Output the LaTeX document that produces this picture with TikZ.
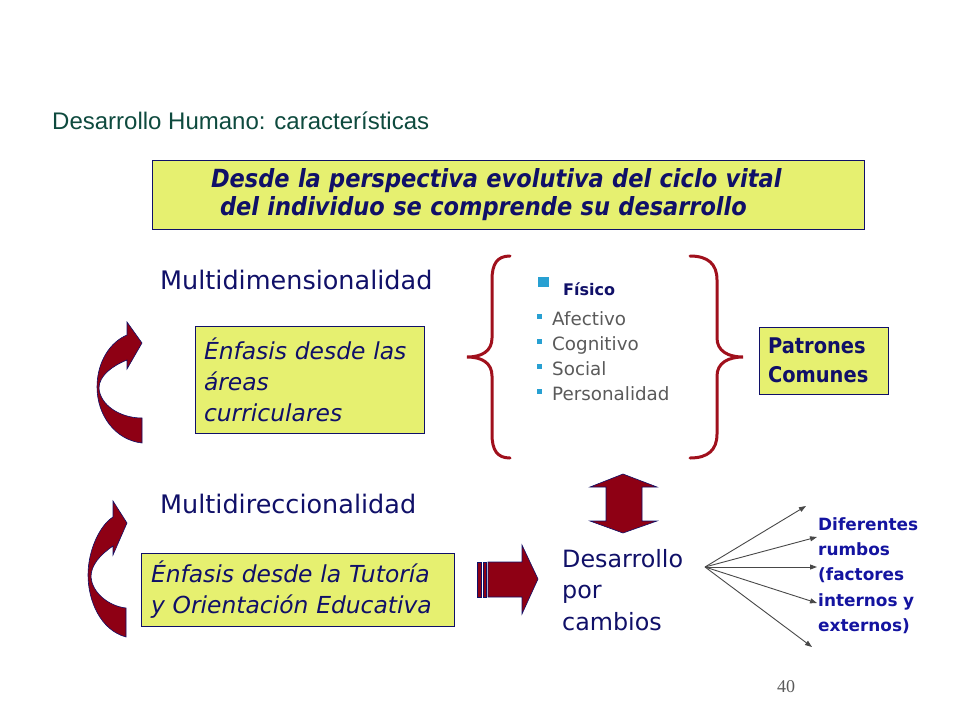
\documentclass[tikz,border=0pt]{standalone}
\usepackage{fontspec}
\setmainfont{DejaVu Sans}
\newfontfamily\titlefont{Liberation Sans}
\newfontfamily\numfont{Liberation Serif}
\newfontfamily\narrowfont[FakeStretch=0.9]{DejaVu Sans}
\usetikzlibrary{arrows.meta}
\definecolor{navy}{RGB}{16,16,104}
\definecolor{boxyellow}{RGB}{230,240,112}
\definecolor{arrowred}{RGB}{142,0,20}
\definecolor{bracered}{RGB}{160,16,28}
\definecolor{titlegreen}{RGB}{14,74,62}
\definecolor{listgray}{RGB}{90,90,90}
\definecolor{bulletblue}{RGB}{40,160,210}
\definecolor{rumboblue}{RGB}{20,20,160}
\definecolor{fangray}{RGB}{72,72,72}
\begin{document}
\begin{tikzpicture}[x=1pt, y=-1pt,
  ybox/.style={draw=navy, line width=0.8pt, fill=boxyellow, text=navy, align=left},
  txt/.style={anchor=base west, inner sep=0, text=navy},
  redshape/.style={fill=arrowred, draw=navy, line width=0.6pt},
  curly/.style={draw=bracered, line width=3pt, line cap=round},
  rumbo/.style={draw=fangray, line width=0.9pt, -{Triangle[length=7pt,width=5pt]}}]
\useasboundingbox (0,0) rectangle (960,720);
\node[txt, text=titlegreen, font=\titlefont\fontsize{24}{28}\selectfont] (title) at (52,129) {Desarrollo Humano: características};
\node[ybox, font=\narrowfont\bfseries\itshape\fontsize{25}{28}\selectfont, inner xsep=59pt, text width=594pt, minimum height=69pt] (intro) at (508,194.5)
  {Desde la perspectiva evolutiva del ciclo vital\\\hspace*{9pt}del individuo se comprende su desarrollo};
\node[txt, font=\fontsize{25.5}{30}\selectfont] (dim) at (160,289) {Multidimensionalidad};
\node[ybox, font=\itshape\fontsize{23.4}{31}\selectfont, inner xsep=9pt, text width=211pt, minimum height=107pt] (areas) at (309.5,379.5)
  {Énfasis desde las\\áreas\\curriculares};
\node[txt, font=\fontsize{25.5}{30}\selectfont] (dir) at (160,513) {Multidireccionalidad};
\node[ybox, font=\itshape\fontsize{23.4}{31}\selectfont, inner xsep=10pt, text width=293pt, minimum height=73pt] (tutoria) at (297.5,589.5)
  {Énfasis desde la Tutoría\\y Orientación Educativa};
\filldraw[redshape] (142,443) .. controls (115,440) and (97,415) .. (97,387) .. controls (97,362) and (110,342) .. (127,335)
  -- (127,322) -- (142,343) -- (127,369) -- (127,360) .. controls (112,366) and (99,376) .. (99,388)
  .. controls (100,405) and (120,418) .. (142,418) -- cycle;
\filldraw[redshape] (126,637) .. controls (100,630) and (88,600) .. (88,575) .. controls (88,550) and (100,525) .. (113,517)
  -- (113,501) -- (127,523) -- (113,555) -- (113,546) .. controls (100,555) and (91,565) .. (91,577)
  .. controls (92,592) and (108,606) .. (126,608) -- cycle;
\draw[curly] (510,256) .. controls (497,256) and (492,264) .. (492,280) -- (492,338) .. controls (492,351) and (482,357) .. (467,357)
  .. controls (482,357) and (492,363) .. (492,376) -- (492,434) .. controls (492,450) and (497,458) .. (510,458);
\draw[curly] (690,256) .. controls (708,256) and (717,264) .. (717,280) -- (717,338) .. controls (717,351) and (728,357) .. (743,357)
  .. controls (728,357) and (717,363) .. (717,376) -- (717,434) .. controls (717,450) and (708,458) .. (690,458);
\fill[bulletblue] (538,277) rectangle (549,287);
\node[txt, font=\bfseries\fontsize{16}{19}\selectfont] (fisico) at (563,295) {Físico};
\foreach \name [count=\i] in {Afectivo,Cognitivo,Social,Personalidad} {
  \fill[bulletblue] (537,{314+25*(\i-1)}) rectangle +(5,5);
  \node[txt, text=listgray, font=\fontsize{18.3}{22}\selectfont] (area\i) at (552,{325+25*(\i-1)}) {\name};
}
\node[ybox, font=\narrowfont\bfseries\fontsize{21.6}{28.5}\selectfont, inner xsep=9pt, text width=111pt, minimum height=67pt] (patrones) at (823.5,360.5)
  {Patrones\\Comunes};
\filldraw[redshape] (623,474) -- (657,487) -- (642,487) -- (642,521) -- (657,521) -- (623,533) -- (590,521) -- (606,521) -- (606,487) -- (590,487) -- cycle;
\filldraw[redshape] (477,562) rectangle (481,597);
\filldraw[redshape] (483,562) rectangle (486,597);
\filldraw[redshape] (488,562) -- (522,562) -- (522,545) -- (538,579) -- (522,614) -- (522,597) -- (488,597) -- cycle;
\node[txt, text width=140pt, font=\fontsize{23.8}{31.5}\selectfont] (cambios) at (562,567) {Desarrollo\\por\\cambios};
\node[txt, text=rumboblue, text width=120pt, font=\bfseries\fontsize{16.9}{25.4}\selectfont] (rumbos) at (818,530)
  {Diferentes\\rumbos\\(factores\\internos y\\externos)};
\coordinate (fan) at (705,567);
\coordinate (r1) at (806,506);
\coordinate (r2) at (817,537);
\coordinate (r3) at (817,567);
\coordinate (r4) at (817,603);
\coordinate (r5) at (812,647);
\foreach \i in {1,...,5} \draw[rumbo] (fan) -- (r\i);
\node[anchor=base, inner sep=0, text=listgray, font=\numfont\fontsize{18}{20}\selectfont] (page) at (786,692) {40};
\end{tikzpicture}
\end{document}
